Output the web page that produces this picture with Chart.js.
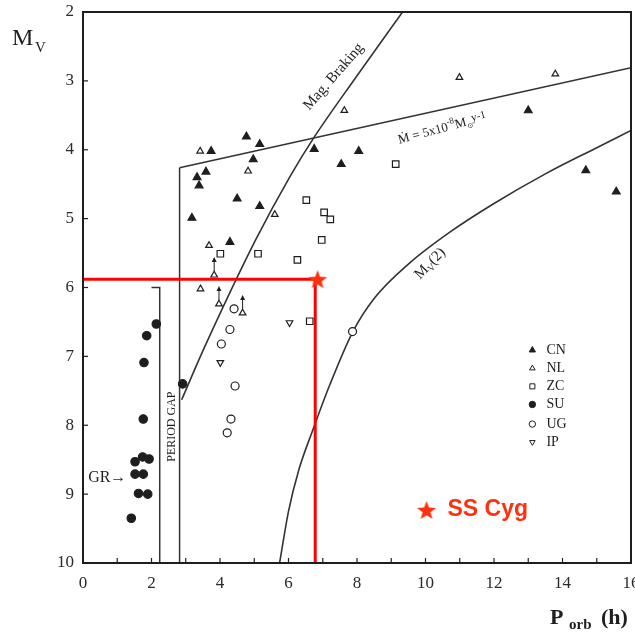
<!DOCTYPE html>
<html><head><meta charset="utf-8">
<script src="https://cdn.jsdelivr.net/npm/chart.js@4.4.1/dist/chart.umd.min.js"></script>
<style>html,body{margin:0;padding:0;background:#fff}#wrap{position:relative;width:635px;height:632px}</style>
</head><body><div id="wrap"><canvas id="c" width="635" height="632"></canvas></div>
<script>
// ---- data (Porb [h], Mv) ----
const xTickLabels = [0, 2, 4, 6, 8, 10, 12, 14, 16];
const yTickLabels = [2, 3, 4, 5, 6, 7, 8, 9, 10];
const categories = ['CN', 'NL', 'ZC', 'SU', 'UG', 'IP'];

const CN = [[4.77,3.81],[5.16,3.92],[3.74,4.02],[4.97,4.14],[3.59,4.32],[3.33,4.40],[3.39,4.52],[4.50,4.71],[5.16,4.82],[3.18,4.99],[4.29,5.34],[6.75,3.99],[8.05,4.02],[7.54,4.21],[13.0,3.43],[14.68,4.30],[15.57,4.61]];
const NL = [[10.99,2.95],[13.79,2.90],[7.63,3.43],[3.42,4.02],[4.82,4.31],[5.60,4.94],[3.68,5.39],[3.83,5.82],[3.43,6.02],[3.97,6.24],[4.66,6.37]];
const ZC = [[9.13,4.21],[6.52,4.73],[7.04,4.91],[7.22,5.01],[6.97,5.31],[6.26,5.60],[4.01,5.51],[5.11,5.51],[6.62,6.49]];
const SU = [[2.14,6.53],[1.86,6.70],[1.78,7.09],[1.76,7.91],[1.52,8.53],[1.74,8.46],[1.93,8.49],[1.52,8.71],[1.76,8.71],[1.62,8.99],[1.89,9.0],[1.41,9.35],[2.91,7.40]];
const UG = [[4.41,6.31],[4.29,6.61],[4.04,6.82],[4.44,7.43],[4.32,7.91],[4.21,8.11],[7.87,6.64]];
const IP = [[4.01,7.09],[6.03,6.51]];
const upperLimits = [[3.83,5.82],[3.97,6.24],[4.66,6.37]];

const magBraking = [[2.88,7.63],[3.51,6.91],[5.04,5.31],[6.03,4.40],[6.76,3.81],[7.98,2.94],[9.33,2.0]];
const mdotLine = [[2.82,4.26],[16,2.81]];
const gapLeft = [[2.0,6.0],[2.24,6.0],[2.24,10]];
const gapRight = [[2.82,10],[2.82,4.26]];
const mv2Curve = [[5.74,10],[6.0,9.25],[6.3,8.65],[6.71,8.07],[7.2,7.42],[7.87,6.65],[8.5,6.16],[9.5,5.66],[10.7,5.2],[12.0,4.78],[13.5,4.35],[15.0,3.97],[16,3.72]];

const ssCyg = [[6.85,5.88]];
const ssCygH = [[0,5.88],[6.78,5.88]];
const ssCygV = [[6.78,5.88],[6.78,10]];

const pts = a => a.map(p => ({x:p[0], y:p[1]}));
const INK = '#1e1e1e';
const RED = '#ff0000';
const STAR = '#ff3010';

function makeStar(size, color){
  const c = document.createElement('canvas'); c.width = size; c.height = size;
  const g = c.getContext('2d'); const r = size/2, ri = r*0.42;
  g.beginPath();
  for (let i=0;i<10;i++){ const rr = i%2? ri : r; const a = -Math.PI/2 + i*Math.PI/5;
    g.lineTo(r + rr*Math.cos(a), r + rr*Math.sin(a) + size*0.05); }
  g.closePath(); g.fillStyle = color; g.fill(); return c;
}
const starImg = makeStar(20, STAR);
const starImg2 = makeStar(20, STAR);

function marker(label, data, style, filled, radius, rot){
  return {type:'scatter', label, data:pts(data), pointStyle:style, pointRadius:radius, pointRotation:rot||0,
    pointBackgroundColor: filled? INK : '#fff', pointBorderColor: INK, pointBorderWidth: 1.2, order:2, showLine:false};
}
function curve(data, color, w, tension, order){
  return {type:'scatter', data:pts(data), showLine:true, borderColor:color, borderWidth:w, pointRadius:0,
    tension: tension, cubicInterpolationMode: tension? 'monotone':'default', fill:false, order: order};
}

const datasets = [
  marker('CN', CN, 'triangle', true, 4.5),
  marker('NL', NL, 'triangle', false, 3.8),
  marker('ZC', ZC, 'rect', false, 4.6),
  marker('SU', SU, 'circle', true, 4.2),
  marker('UG', UG, 'circle', false, 4),
  marker('IP', IP, 'triangle', false, 3.8, 180),
  curve(magBraking, '#333', 1.6, 0.4, 3),
  curve(mdotLine, '#333', 1.6, 0, 3),
  curve(gapLeft, '#333', 1.5, 0, 3),
  curve(gapRight, '#333', 1.5, 0, 3),
  curve(mv2Curve, '#333', 1.6, 0.4, 3),
  curve(ssCygH, RED, 3, 0, 1),
  curve(ssCygV, RED, 3, 0, 1),
  {type:'scatter', data:pts(ssCyg), pointStyle:starImg, pointRadius:10, order:0}
];

const decor = {
  id:'decor',
  afterDatasetsDraw(chart){
    const ctx = chart.ctx, a = chart.chartArea, xs = chart.scales.x, ys = chart.scales.y;
    const X = v => xs.getPixelForValue(v), Y = v => ys.getPixelForValue(v);
    ctx.save();
    // frame
    ctx.strokeStyle = INK; ctx.lineWidth = 2;
    ctx.strokeRect(a.left, a.top, a.right - a.left, a.bottom - a.top);
    // inward ticks
    ctx.lineWidth = 1.2;
    for (let v = 1; v < 16; v++){ const p = X(v); ctx.beginPath(); ctx.moveTo(p, a.bottom); ctx.lineTo(p, a.bottom-5); ctx.stroke(); }
    for (let v = 3; v < 10; v++){ const p = Y(v); ctx.beginPath(); ctx.moveTo(a.left, p); ctx.lineTo(a.left+5, p); ctx.stroke(); }
    // tick labels
    ctx.fillStyle = '#2a2a2a'; ctx.font = '17px "Liberation Serif"';
    ctx.textAlign = 'center'; ctx.textBaseline = 'middle';
    xTickLabels.forEach(v => ctx.fillText(String(v), X(v), a.bottom + 21));
    ctx.textAlign = 'right';
    yTickLabels.forEach(v => ctx.fillText(String(v), a.left - 9, Y(v)));
    // upper-limit arrows
    ctx.fillStyle = INK; ctx.strokeStyle = INK; ctx.lineWidth = 1;
    upperLimits.forEach(p => { const px = X(p[0]), py = Y(p[1]) - 4;
      ctx.beginPath(); ctx.moveTo(px, py); ctx.lineTo(px, py-11); ctx.stroke();
      ctx.beginPath(); ctx.moveTo(px, py-14); ctx.lineTo(px-2.5, py-9); ctx.lineTo(px+2.5, py-9); ctx.closePath(); ctx.fill(); });
    // rotated labels
    function rot(text, x, y, ang, font){ ctx.save(); ctx.translate(X(x), Y(y)); ctx.rotate(ang*Math.PI/180);
      ctx.font = font; ctx.textAlign='center'; ctx.textBaseline='middle'; ctx.fillStyle = INK; ctx.fillText(text, 0, 0); ctx.restore(); }
    rot('Mag. Braking', 7.32, 2.94, -49, '15px "Liberation Serif"');
    rot('PERIOD GAP', 2.59, 8.02, -90, '12px "Liberation Serif"');
    // Mv(2)
    ctx.save(); ctx.translate(X(10.12), Y(5.64)); ctx.rotate(-46*Math.PI/180); ctx.fillStyle = INK;
    ctx.textBaseline='alphabetic'; ctx.font = '15px "Liberation Serif"'; ctx.textAlign='left';
    ctx.fillText('M', -19, 5); ctx.font = '10px "Liberation Serif"'; ctx.fillText('V', -6, 8);
    ctx.font = '15px "Liberation Serif"'; ctx.fillText('(2)', 1, 5); ctx.restore();
    // Mdot label
    ctx.save(); ctx.translate(X(10.61), Y(3.67)); ctx.rotate(-15*Math.PI/180); ctx.fillStyle = INK;
    ctx.textBaseline='alphabetic'; ctx.textAlign='left';
    let cx = -50;
    const seg = (t, f, dy) => { ctx.font = f; ctx.fillText(t, cx, dy); cx += ctx.measureText(t).width; };
    seg('\u1E40 = 5x10', '13px "Liberation Serif"', 4);
    seg('-8', '9px "Liberation Serif"', -2);
    seg('M', '13px "Liberation Serif"', 4);
    seg('\u2299', '7px "DejaVu Sans"', 7);
    seg('y-1', '11px "Liberation Serif"', 1);
    ctx.restore();
    // GR arrow
    ctx.font = '16px "Liberation Serif"'; ctx.fillStyle = INK; ctx.textAlign='left'; ctx.textBaseline='middle';
    ctx.fillText('GR\u2192', X(0.15), Y(8.76));
    // legend
    const lx = X(13.12), tx = X(13.53); let ly = Y(6.91);
    const legendStyles = [['triangle',true,3.6,0],['triangle',false,3.2,0],['rect',false,3.6,0],['circle',true,3.2,0],['circle',false,3.2,0],['triangle',false,3.2,180]];
    ctx.font = '14px "Liberation Serif"';
    categories.forEach((c, i) => {
      const s = legendStyles[i], yy = ly + i*18.1 + (i>=4? 1.5:0);
      ctx.fillStyle = s[1]? INK : '#fff'; ctx.strokeStyle = INK; ctx.lineWidth = 1;
      Chart.helpers.drawPoint(ctx, {pointStyle:s[0], radius:s[2], rotation:s[3], borderWidth:1}, lx, yy);
      ctx.fillStyle = INK; ctx.fillText(c, tx, yy);
    });
    // SS Cyg legend
    ctx.drawImage(starImg2, X(10.03)-10, Y(9.23)-10, 20, 20);
    ctx.fillStyle = STAR; ctx.font = 'bold 23px "Liberation Sans"'; ctx.textBaseline = 'middle';
    ctx.fillText('SS Cyg', X(10.03)+21, Y(9.23));
    ctx.restore();
    // axis titles
    ctx.save(); ctx.fillStyle = INK; ctx.textBaseline='alphabetic'; ctx.textAlign='left';
    ctx.font = '24px "Liberation Serif"'; ctx.fillText('M', 12, 45);
    ctx.font = '15px "Liberation Serif"'; ctx.fillText('V', 35, 52);
    ctx.font = 'bold 22px "Liberation Serif"'; ctx.fillText('P', 550, 624);
    ctx.font = 'bold 15px "Liberation Serif"'; ctx.fillText('orb', 569, 629);
    ctx.font = 'bold 22px "Liberation Serif"'; ctx.fillText('(h)', 601, 624);
    ctx.restore();
  }
};

new Chart(document.getElementById('c'), {
  type:'scatter',
  data:{datasets},
  options:{
    responsive:false, animation:false, devicePixelRatio:1,
    layout:{autoPadding:false, padding:{top:12, right:4, left:0, bottom:0}},
    plugins:{legend:{display:false}, tooltip:{enabled:false}},
    scales:{
      x:{type:'linear', min:0, max:16,
        ticks:{display:false}, grid:{display:false, drawTicks:false}, border:{display:false},
        afterFit: s => { s.height = 69; }},
      y:{type:'linear', min:2, max:10, reverse:true,
        ticks:{display:false}, grid:{display:false, drawTicks:false}, border:{display:false},
        afterFit: s => { s.width = 83; }}
    }
  },
  plugins:[decor]
});
</script></body></html>
